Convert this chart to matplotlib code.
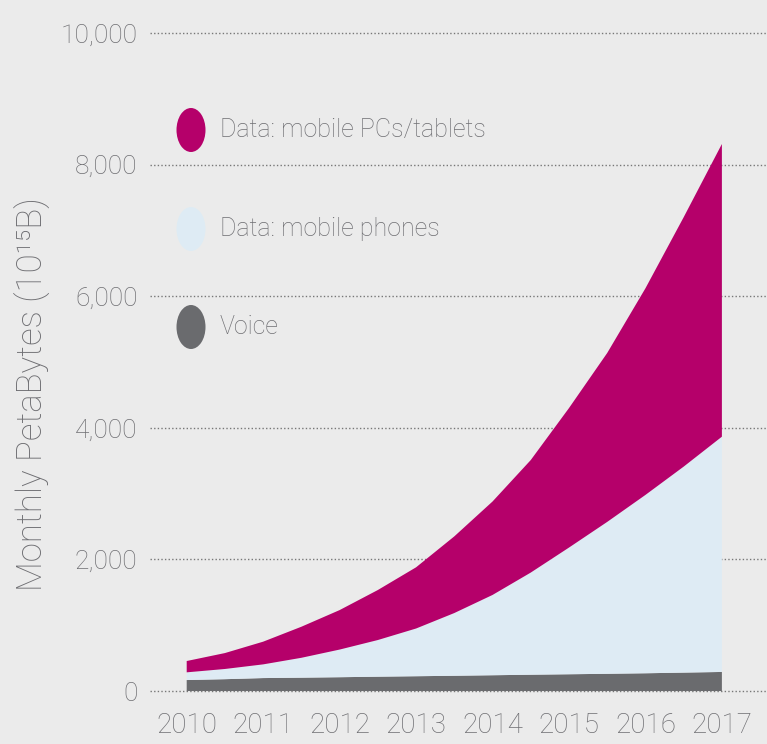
import matplotlib
matplotlib.use('Agg')
import matplotlib.pyplot as plt
from matplotlib.patches import Ellipse

# cumulative tops of each band, yearly plus mid-year
years = [2010, 2010.5, 2011, 2011.5, 2012, 2012.5, 2013, 2013.5,
         2014, 2014.5, 2015, 2015.5, 2016, 2016.5, 2017]
voice_top = [167, 180, 197, 203, 210, 218, 225, 232,
             240, 248, 255, 262, 270, 280, 290]
phones_top = [284, 335, 405, 505, 630, 775, 950, 1185,
              1460, 1800, 2180, 2570, 2980, 3410, 3865]
total_top = [456, 577, 750, 977, 1230, 1535, 1880, 2350,
             2880, 3510, 4300, 5137, 6120, 7200, 8313]

voice = voice_top
phones = [p - v for p, v in zip(phones_top, voice_top)]
pcs = [t - p for t, p in zip(total_top, phones_top)]

series_names = ['Data: mobile PCs/tablets', 'Data: mobile phones', 'Voice']
year_labels = ['2010', '2011', '2012', '2013', '2014', '2015', '2016', '2017']
y_ticks = [0, 2000, 4000, 6000, 8000, 10000]

BG = '#ebebeb'
PINK = '#b5006a'
LIGHT = '#deebf4'
GREY = '#6a6b6e'
TXT = '#6e6e72'
FONT = ['Roboto', 'DejaVu Sans']

fig = plt.figure(figsize=(7.67, 7.44), dpi=100, facecolor=BG)
ax = fig.add_axes([150 / 767., 1 - 700.9 / 744., 1 - 150 / 767., (700.9 - 29.7) / 744.])
ax.set_facecolor(BG)

ax.stackplot(years, voice, phones, pcs, colors=[GREY, LIGHT, PINK],
             linewidth=0, zorder=2)

ax.set_xlim(2009.52, 2017.59)
ax.set_ylim(-150, 10050)
ax.set_yticks(y_ticks)
ax.set_yticklabels(['{:,}'.format(v) for v in y_ticks])
ax.set_xticks(range(2010, 2018))
ax.set_xticklabels(year_labels)
for lab in ax.get_yticklabels():
    lab.set_family(FONT)
    lab.set_fontweight('light')
    lab.set_fontsize(19)
    lab.set_color(TXT)
for lab in ax.get_xticklabels():
    lab.set_family(FONT)
    lab.set_fontweight('light')
    lab.set_fontsize(20)
    lab.set_color(TXT)
ax.tick_params(axis='both', length=0)
ax.tick_params(axis='x', pad=8)
ax.tick_params(axis='y', pad=9)
ax.grid(axis='y', linestyle=(0, (1, 1.6)), color='#777777', linewidth=1.0, zorder=1)
ax.grid(axis='x', visible=False)
for s in ax.spines.values():
    s.set_visible(False)

fig.text(33 / 767., 1 - 394 / 744., 'Monthly PetaBytes (10¹⁵B)', rotation=90,
         ha='center', va='center', fontsize=25, color=TXT, family=FONT,
         fontweight='light')

# legend: ellipse markers and labels
leg_y = [130, 229, 327]
for name, col, yy in zip(series_names, [PINK, LIGHT, GREY], leg_y):
    fig.patches.append(Ellipse((191 / 767., 1 - yy / 744.), 29 / 767., 44 / 744.,
                               transform=fig.transFigure, facecolor=col,
                               edgecolor='none', figure=fig))
    fig.text(220 / 767., 1 - yy / 744., name, ha='left', va='center',
             fontsize=18, color=TXT, family=FONT, fontweight='light')

fig.savefig('out.png', dpi=100, facecolor=BG)
